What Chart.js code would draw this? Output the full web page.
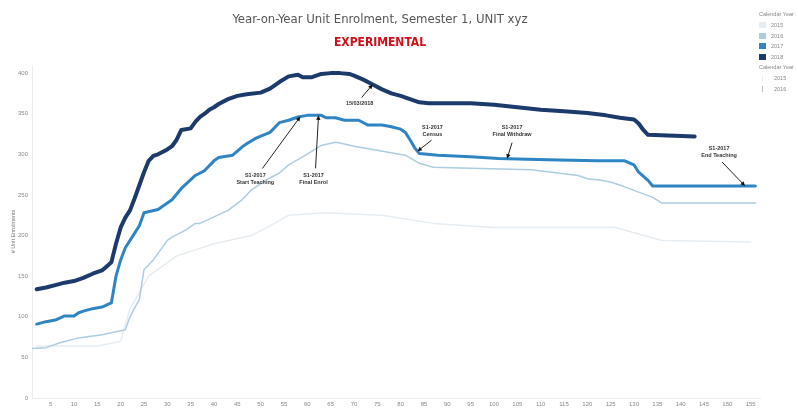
<!DOCTYPE html>
<html>
<head>
<meta charset="utf-8">
<script src="https://cdn.jsdelivr.net/npm/chart.js@4.4.0/dist/chart.umd.min.js"></script>
<style>
  html, body { margin: 0; padding: 0; background: #fff; }
  #wrap { position: relative; width: 798px; height: 412px; overflow: hidden; }
  #enrolChart { position: absolute; left: 0; top: 0; }
  #legend { position: absolute; left: 759px; top: 11px; font-family: "Liberation Sans", Arial, sans-serif; font-size: 5.5px; color: #888; white-space: nowrap; }
  #legend .head { margin-bottom: 3px; }
  #legend .row { height: 10.5px; display: flex; align-items: center; }
  #legend .sw { width: 7px; height: 6px; margin-right: 5px; }
  #legend .ln { width: 7px; height: 6px; margin-right: 8px; position: relative; }
  #legend .ln span { position: absolute; left: 3px; top: 0; width: 1px; height: 6px; }
</style>
</head>
<body>
<div id="wrap">
  <canvas id="enrolChart" width="765" height="412"></canvas>
  <div id="legend"></div>
</div>
<script>
// Unit enrolments by day of semester, one pair of arrays per calendar year
const days2018 = [2, 4, 6, 8, 10, 12, 14, 16, 17, 18, 19, 20, 21, 22, 23, 24, 25, 26, 27, 28,
                  30, 31, 32, 33, 35, 36, 37, 38, 39, 40, 41, 43, 45, 47, 50, 52, 54, 56, 58, 59,
                  61, 63, 65, 67, 69, 70, 72, 74, 76, 78, 80, 82, 84, 86, 95, 100, 105, 110, 115, 120,
                  124, 127, 130, 131, 132, 133, 143];
const enrol2018 = [134, 136, 139, 142, 144, 148, 153, 157, 162, 167, 190, 210, 222, 231, 246, 262, 278, 292, 298, 300,
                   306, 310, 318, 330, 332, 340, 346, 350, 355, 358, 362, 368, 372, 374, 376, 381, 389, 396, 398, 395,
                   395, 399, 400, 400, 399, 397, 392, 386, 380, 375, 372, 368, 364, 363, 363, 361, 358, 355, 353, 351,
                   348, 345, 343, 338, 330, 324, 322];

const days2017 = [2, 4, 6, 8, 10, 11, 12, 14, 16, 18, 19, 20, 21, 23, 24, 25, 28, 31, 33, 36,
                  38, 40, 41, 44, 46, 47, 49, 52, 54, 56, 58, 60, 63, 64, 66, 68, 71, 73, 76, 78,
                  80, 81, 82, 83, 84, 88, 95, 101, 107, 114, 122, 128, 130, 131, 133, 134, 156];
const enrol2017 = [91, 94, 96, 101, 101, 105, 107, 110, 112, 117, 150, 170, 185, 203, 212, 228, 232, 244, 258, 274,
                   280, 292, 296, 299, 309, 313, 320, 327, 339, 342, 346, 348, 348, 345, 345, 342, 342, 336, 336, 334,
                   331, 327, 318, 308, 301, 299, 297, 295, 294, 293, 292, 292, 287, 278, 268, 261, 261];

const days2016 = [1, 4, 7, 9, 11, 16, 21, 22, 23, 24, 25, 27, 30, 31, 34, 36, 37, 40, 43, 46,
                  48, 51, 54, 56, 59, 63, 66, 67, 70, 74, 77, 81, 84, 87, 95, 108, 118, 120, 123, 125,
                  128, 134, 136, 156];
const enrol2016 = [61, 62, 68, 71, 74, 78, 84, 100, 111, 121, 158, 170, 194, 198, 207, 215, 215, 223, 231, 244,
                   256, 268, 277, 287, 297, 311, 315, 314, 310, 306, 303, 299, 289, 284, 283, 281, 274, 270, 268, 266,
                   260, 247, 240, 240];

const days2015 = [2, 15, 20, 22, 26, 32, 40, 48, 53, 56, 64, 76, 87, 100, 126, 136, 155];
const enrol2015 = [64, 64, 70, 110, 150, 175, 190, 200, 215, 225, 228, 225, 215, 210, 210, 194, 192];

const dayTicks = [5, 10, 15, 20, 25, 30, 35, 40, 45, 50, 55, 60, 65, 70, 75, 80,
                  85, 90, 95, 100, 105, 110, 115, 120, 125, 130, 135, 140, 145, 150, 155];

const years = ['2015', '2016', '2017', '2018'];
const yearColors = ['#e6edf2', '#adcde0', '#2f84c4', '#1d3a6c'];

// Key dates for the S1-2017 teaching period
const notes = [
  { lines: ['15/03/2018'], year: '2018', day: 74 },
  { lines: ['S1-2017', 'Start Teaching'], year: '2017', day: 58.5 },
  { lines: ['S1-2017', 'Final Enrol'], year: '2017', day: 62.4 },
  { lines: ['S1-2017', 'Census'], year: '2017', day: 83.6 },
  { lines: ['S1-2017', 'Final Withdraw'], year: '2017', day: 102.8 },
  { lines: ['S1-2017', 'End Teaching'], year: '2017', day: 153.8 }
];
// label and arrow-tail offsets from the arrow tip, px
const noteText = [[-13, 19], [-45, 59], [-5, 60], [15, -24], [5, -31], [-26, -38]];
const noteTail = [[-11, 13], [-38, 52], [-3, 53], [14, -11], [5, -16], [-23, -24]];

function toPoints(days, values) {
    return days.map((d, i) => ({ x: d, y: values[i] }));
}

function valueAt(points, day) {
    for (let i = 1; i < points.length; i++) {
        const a = points[i - 1], b = points[i];
        if (day >= a.x && day <= b.x) {
            return a.y + (b.y - a.y) * (day - a.x) / (b.x - a.x);
        }
    }
    return points[points.length - 1].y;
}

const noteArrows = {
    id: 'noteArrows',
    afterDatasetsDraw(chart) {
        const ctx = chart.ctx;
        const xs = chart.scales.x, ys = chart.scales.y;
        ctx.save();
        notes.forEach((n, i) => {
            const ds = chart.data.datasets.find(d => d.label === n.year);
            const tx = xs.getPixelForValue(n.day);
            const ty = ys.getPixelForValue(valueAt(ds.data, n.day));
            const sx = tx + noteTail[i][0], sy = ty + noteTail[i][1];
            const ang = Math.atan2(ty - sy, tx - sx);

            ctx.strokeStyle = '#222';
            ctx.lineWidth = 1;
            ctx.beginPath();
            ctx.moveTo(sx, sy);
            ctx.lineTo(tx - Math.cos(ang) * 3, ty - Math.sin(ang) * 3);
            ctx.stroke();

            ctx.fillStyle = '#111';
            ctx.beginPath();
            ctx.moveTo(tx, ty);
            ctx.lineTo(tx - 5 * Math.cos(ang - 0.45), ty - 5 * Math.sin(ang - 0.45));
            ctx.lineTo(tx - 5 * Math.cos(ang + 0.45), ty - 5 * Math.sin(ang + 0.45));
            ctx.closePath();
            ctx.fill();

            ctx.font = 'bold 5.5px "Liberation Sans", Arial, sans-serif';
            ctx.textAlign = 'center';
            ctx.textBaseline = 'middle';
            ctx.fillStyle = '#333';
            n.lines.forEach((t, k) => {
                ctx.fillText(t, tx + noteText[i][0], ty + noteText[i][1] + k * 7);
            });
        });
        ctx.restore();
    }
};

function buildLegend() {
    const el = document.getElementById('legend');
    let html = '<div class="head">Calendar Year</div>';
    years.forEach((y, i) => {
        html += `<div class="row"><div class="sw" style="background:${yearColors[i]}"></div>${y}</div>`;
    });
    html += '<div class="head" style="margin-top:2px">Calendar Year</div>';
    ['2015', '2016'].forEach((y, i) => {
        html += `<div class="row"><div class="ln"><span style="background:${i ? '#bbb' : '#eee'}"></span></div>${y}</div>`;
    });
    el.innerHTML = html;
}

const series = [
    { year: '2018', pts: toPoints(days2018, enrol2018), width: 4 },
    { year: '2017', pts: toPoints(days2017, enrol2017), width: 3 },
    { year: '2016', pts: toPoints(days2016, enrol2016), width: 1.5 },
    { year: '2015', pts: toPoints(days2015, enrol2015), width: 1.5 }
];

buildLegend();

new Chart(document.getElementById('enrolChart'), {
    type: 'line',
    data: {
        datasets: series.map(s => ({
            label: s.year,
            data: s.pts,
            borderColor: yearColors[years.indexOf(s.year)],
            borderWidth: s.width,
            borderJoinStyle: 'round',
            borderCapStyle: 'round',
            pointRadius: 0,
            tension: 0,
            fill: false
        }))
    },
    options: {
        responsive: false,
        animation: false,
        devicePixelRatio: 1,
        layout: { padding: { right: 5 } },
        scales: {
            x: {
                type: 'linear',
                min: 1,
                max: 157,
                afterBuildTicks: s => { s.ticks = dayTicks.map(v => ({ value: v })); },
                afterFit: s => { s.height = 14; },
                ticks: { maxRotation: 0, autoSkip: false, color: '#888', padding: 3,
                         font: { size: 6, family: '"Liberation Sans", Arial' } },
                grid: { display: false, drawTicks: false },
                border: { color: '#ececec' }
            },
            y: {
                min: 0,
                max: 410,
                afterBuildTicks: s => { s.ticks = s.ticks.filter(t => t.value % 50 === 0); },
                afterFit: s => { s.width = 32; },
                ticks: { stepSize: 50, color: '#888', padding: 4,
                         font: { size: 6, family: '"Liberation Sans", Arial' } },
                title: { display: true, text: '# Unit Enrolments', color: '#777', padding: { top: 10, bottom: 0 },
                         font: { size: 5.5, family: '"Liberation Sans", Arial' } },
                grid: { display: false, drawTicks: false },
                border: { color: '#ececec' }
            }
        },
        plugins: {
            legend: { display: false },
            tooltip: { enabled: false },
            title: {
                display: true,
                text: 'Year-on-Year Unit Enrolment, Semester 1, UNIT xyz',
                color: '#555',
                font: { family: '"DejaVu Sans Condensed", "Liberation Sans Narrow", Arial', size: 13, weight: 'normal' },
                padding: { top: 12, bottom: 8 }
            },
            subtitle: {
                display: true,
                text: 'EXPERIMENTAL',
                color: '#d0101b',
                font: { family: '"DejaVu Sans Condensed", "Liberation Sans Narrow", Arial', size: 12, weight: 'bold' },
                padding: { top: 0, bottom: 15 }
            }
        }
    },
    plugins: [noteArrows]
});
</script>
</body>
</html>
